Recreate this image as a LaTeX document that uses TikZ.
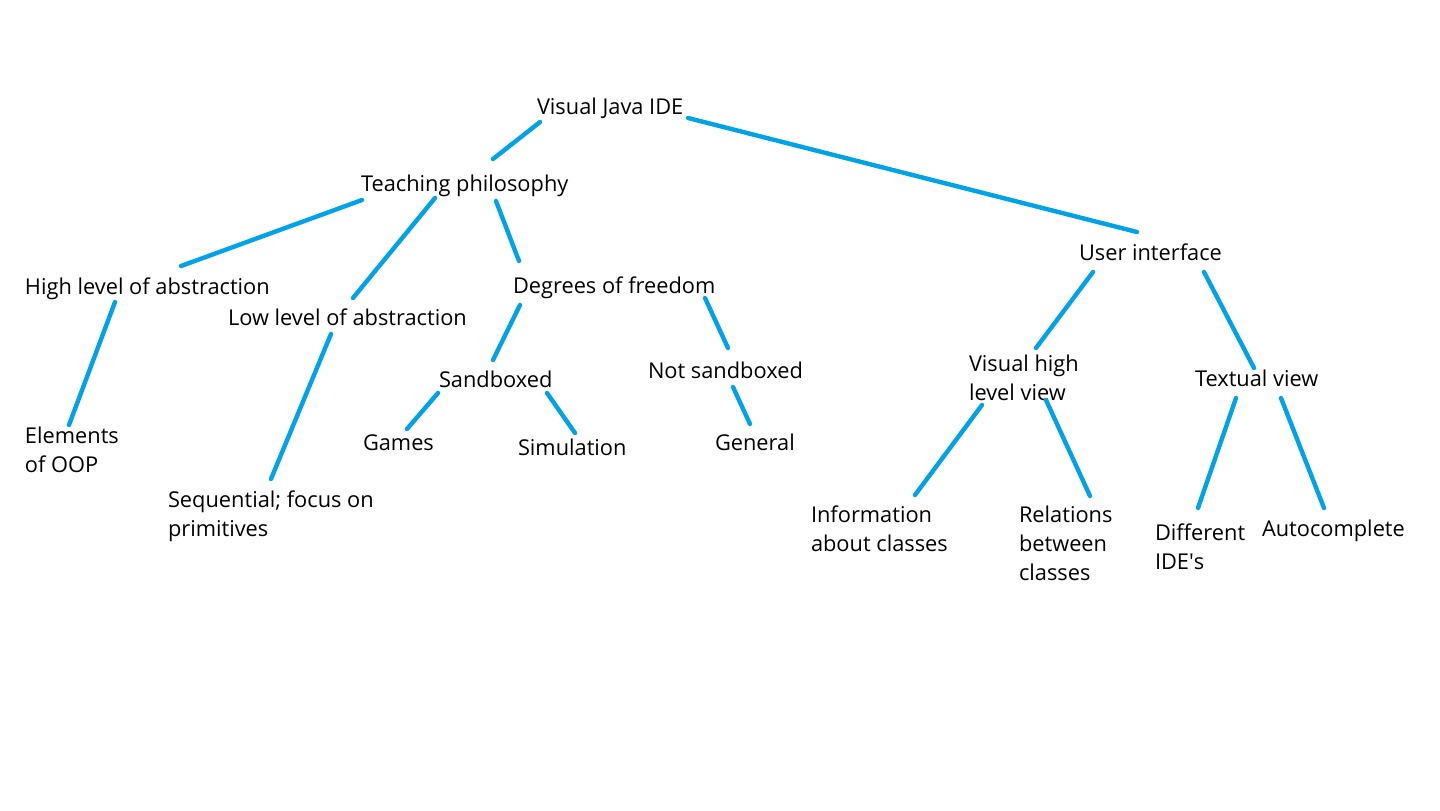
\documentclass[tikz,border=0pt]{standalone}
\usepackage{fontspec}
\setmainfont{Open Sans}
\definecolor{linkblue}{RGB}{0,162,232}
\begin{document}
\begin{tikzpicture}[x=0.5pt,y=-0.5pt,
  lbl/.style={anchor=base west,inner sep=0pt,outer sep=0pt,align=left,
    font=\fontsize{10.9}{14.35}\selectfont},
  link/.style={draw=linkblue,line width=2.2pt,line cap=round}]
\useasboundingbox[fill=white] (0,0) rectangle (1440,810);
% labels (multi-line labels are placed by their last baseline)
\node[lbl] (root) at (537,114) {Visual Java IDE};
\node[lbl] (teach) at (361,191) {Teaching philosophy};
\node[lbl] (high) at (25,294) {High level of abstraction};
\node[lbl] (low) at (228,325) {Low level of abstraction};
\node[lbl] (deg) at (513,293) {Degrees of freedom};
\node[lbl] (ui) at (1079,260) {User interface};
\node[lbl] (elem) at (25,472) {Elements\\of OOP};
\node[lbl] (seq) at (168,536) {Sequential; focus on\\primitives};
\node[lbl] (sand) at (439,387) {Sandboxed};
\node[lbl] (nsand) at (648,378) {Not sandboxed};
\node[lbl] (games) at (363,450) {Games};
\node[lbl] (sim) at (518,455) {Simulation};
\node[lbl] (gen) at (715,450) {General};
\node[lbl] (vis) at (969,400) {Visual high\\level view};
\node[lbl] (text) at (1195,386) {Textual view};
\node[lbl] (info) at (811,551) {Information\\about classes};
\node[lbl] (rel) at (1019,580) {Relations\\between\\classes};
\node[lbl] (diff) at (1155,569) {Different\\IDE\textquotesingle s};
\node[lbl] (auto) at (1262,536) {Autocomplete};
% connector end points
\coordinate (root-t) at (540,122);   \coordinate (teach-r) at (493,159);
\coordinate (root-u) at (688,118);   \coordinate (ui-r) at (1137,232);
\coordinate (teach-h) at (362,200);  \coordinate (high-t) at (181,266);
\coordinate (teach-l) at (435,198);  \coordinate (low-t) at (353,298);
\coordinate (teach-d) at (496,201);  \coordinate (deg-t) at (519,261);
\coordinate (high-e) at (115,302);   \coordinate (elem-t) at (69,425);
\coordinate (low-s) at (331,334);    \coordinate (seq-t) at (271,479);
\coordinate (deg-s) at (520,305);    \coordinate (sand-t) at (493,360);
\coordinate (deg-n) at (705,298);    \coordinate (nsand-t) at (728,348);
\coordinate (sand-g) at (438,393);   \coordinate (games-t) at (407,429);
\coordinate (sand-s) at (547,393);   \coordinate (sim-t) at (575,433);
\coordinate (nsand-g) at (733,387);  \coordinate (gen-t) at (750,424);
\coordinate (ui-v) at (1093,272);    \coordinate (vis-t) at (1036,348);
\coordinate (ui-x) at (1204,272);    \coordinate (text-t) at (1254,368);
\coordinate (vis-i) at (982,405);    \coordinate (info-t) at (915,495);
\coordinate (vis-r) at (1046,400);   \coordinate (rel-t) at (1090,496);
\coordinate (text-d) at (1236,398);  \coordinate (diff-t) at (1198,508);
\coordinate (text-a) at (1281,398);  \coordinate (auto-t) at (1324,508);
% connectors
\draw[link] (root-t) -- (teach-r);
\draw[link] (root-u) -- (ui-r);
\draw[link] (teach-h) -- (high-t);
\draw[link] (teach-l) -- (low-t);
\draw[link] (teach-d) -- (deg-t);
\draw[link] (high-e) -- (elem-t);
\draw[link] (low-s) -- (seq-t);
\draw[link] (deg-s) -- (sand-t);
\draw[link] (deg-n) -- (nsand-t);
\draw[link] (sand-g) -- (games-t);
\draw[link] (sand-s) -- (sim-t);
\draw[link] (nsand-g) -- (gen-t);
\draw[link] (ui-v) -- (vis-t);
\draw[link] (ui-x) -- (text-t);
\draw[link] (vis-i) -- (info-t);
\draw[link] (vis-r) -- (rel-t);
\draw[link] (text-d) -- (diff-t);
\draw[link] (text-a) -- (auto-t);
\end{tikzpicture}
\end{document}
